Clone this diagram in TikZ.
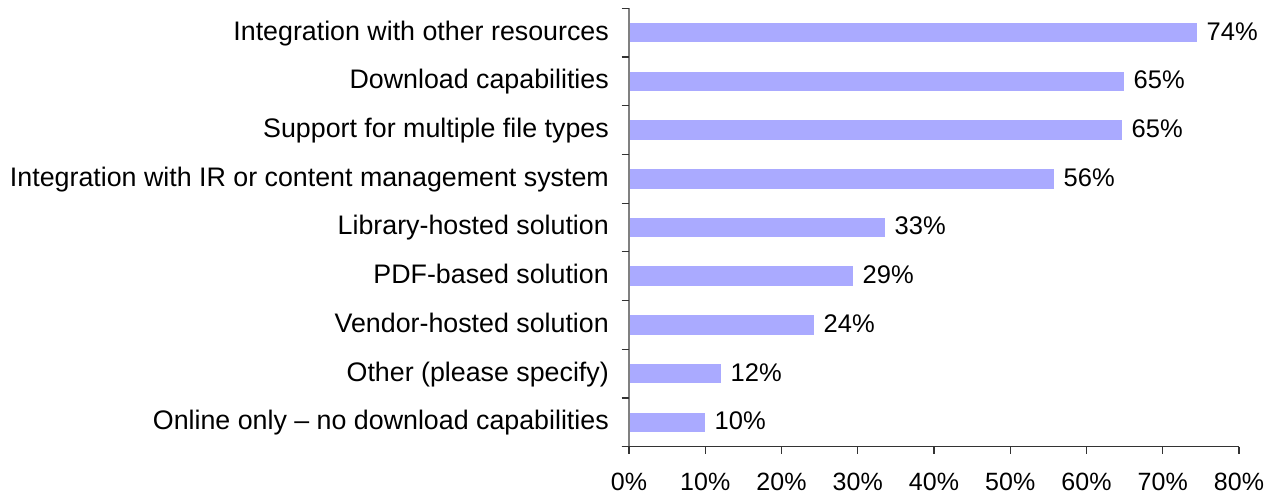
\documentclass[tikz,border=0pt]{standalone}
\usepackage{fontspec}
\setmainfont{Liberation Sans}
\definecolor{barfill}{HTML}{AAAAFF}
\definecolor{axisgray}{HTML}{808080}
\begin{document}
\begin{tikzpicture}[x=1pt,y=-1pt,
  bar/.style={fill=barfill,draw=none},
  catlabel/.style={anchor=base east,inner sep=0pt,font=\fontsize{26.8}{30}\selectfont},
  vallabel/.style={anchor=base west,inner sep=0pt,font=\fontsize{25.5}{30}\selectfont},
  ticklabel/.style={anchor=base,inner sep=0pt,font=\fontsize{25}{30}\selectfont},
  axisline/.style={draw=black!80,line width=1.2pt}]
\useasboundingbox (0,0) rectangle (1271,498);
\def\axx{629}
\foreach \i/\lab/\e/\v in {
  0/Integration with other resources/1197/74\%,
  1/Download capabilities/1124/65\%,
  2/Support for multiple file types/1122/65\%,
  3/Integration with IR or content management system/1054/56\%,
  4/Library-hosted solution/885/33\%,
  5/PDF-based solution/853/29\%,
  6/Vendor-hosted solution/814/24\%,
  7/Other (please specify)/721/12\%,
  8/Online only -- no download capabilities/705/10\%}{
  \pgfmathsetmacro{\yc}{8.3+48.71*\i+24.35}
  \fill[bar] (\axx,\yc-9.8) rectangle (\e,\yc+9.8);
  \coordinate (be\i) at (\e,\yc);
  \node[vallabel] (v\i) at ([xshift=9.5pt,yshift=-7.4pt]be\i) {\v};
  \node[catlabel] (c\i) at (609,\yc+7.4) {\lab};
}
% vertical axis
\draw[draw=axisgray,line width=1.2pt] (\axx,8.3) -- (\axx,454);
\foreach \i in {0,...,9}{
  \pgfmathsetmacro{\yt}{8.3+48.71*\i}
  \draw[axisline] (621.7,\yt) -- (\axx,\yt);
}
% horizontal axis
\draw[axisline] (621.7,446.7) -- (1239,446.7);
\foreach \k in {0,...,8}{
  \pgfmathsetmacro{\xt}{629+76.25*\k}
  \draw[axisline] (\xt,446.7) -- (\xt,454);
  \node[ticklabel] (t\k) at (\xt,490.7) {\pgfmathparse{int(10*\k)}\pgfmathresult\%};
}
\end{tikzpicture}
\end{document}
